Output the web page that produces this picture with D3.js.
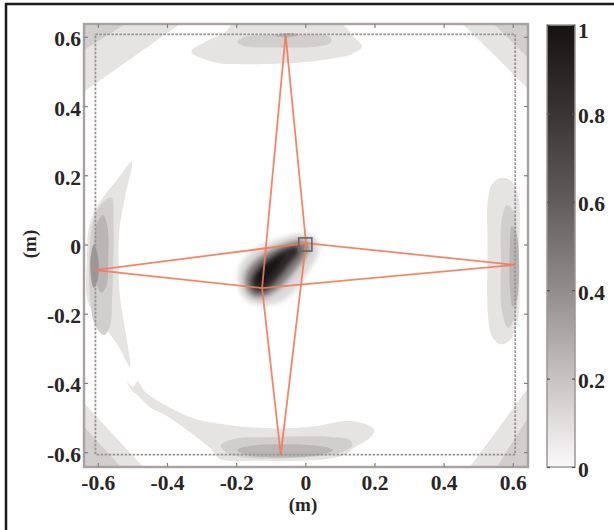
<!DOCTYPE html>
<html>
<head>
<meta charset="utf-8">
<script src="https://cdn.jsdelivr.net/npm/d3@7"></script>
<style>
  body { margin: 0; background: #fff; }
  text { font-family: "Liberation Serif", "Times New Roman", serif; font-weight: bold; fill: #2a2626; }
</style>
</head>
<body>
<div class="chart"></div>
<script>
var width = 614, height = 530;

// tick values
var xTicks = [-0.6, -0.4, -0.2, 0, 0.2, 0.4, 0.6];
var yTicks = [-0.6, -0.4, -0.2, 0, 0.2, 0.4, 0.6];
var cbTicks = [0, 0.2, 0.4, 0.6, 0.8, 1];

// contour outlines, in metres
var cornerTL1 = [[-0.64, 0.637], [-0.362, 0.637], [-0.64, 0.441]];
var cornerTL2 = [[-0.64, 0.637], [-0.521, 0.637], [-0.64, 0.562]];
var cornerTR1 = [[0.644, 0.637], [0.455, 0.637], [0.644, 0.45]];
var cornerTR2 = [[0.644, 0.637], [0.545, 0.637], [0.644, 0.54]];
var cornerBL1 = [[-0.64, -0.643], [-0.64, -0.458], [-0.469, -0.643]];
var cornerBL2 = [[-0.64, -0.643], [-0.64, -0.527], [-0.533, -0.643]];
var cornerBR1 = [[0.644, -0.643], [0.644, -0.415], [0.476, -0.643]];
var cornerBR2 = [[0.644, -0.643], [0.644, -0.5], [0.554, -0.643]];

var topBand1 = [[-0.33, 0.557], [-0.29, 0.585], [-0.232, 0.614], [-0.2, 0.645], [0.09, 0.645], [0.143, 0.597],
  [0.164, 0.571], [0.129, 0.548], [0.071, 0.536], [-0.024, 0.525], [-0.189, 0.521], [-0.255, 0.525]];
var topBand2 = [[-0.197, 0.585], [-0.174, 0.6], [-0.044, 0.606], [0.071, 0.6], [0.074, 0.585], [0.042, 0.573],
  [-0.102, 0.57], [-0.174, 0.573]];
var topBand3 = [[-0.09, 0.603], [-0.05, 0.611], [-0.02, 0.606], [-0.05, 0.598]];

var leftBand1 = [[-0.502, 0.239], [-0.521, 0.138], [-0.538, 0.042], [-0.54, -0.054], [-0.536, -0.151], [-0.521, -0.247],
  [-0.507, -0.353], [-0.54, -0.295], [-0.574, -0.247], [-0.613, -0.199], [-0.632, -0.151], [-0.632, -0.054],
  [-0.627, 0.042], [-0.613, 0.09], [-0.584, 0.138], [-0.545, 0.186]];
var leftBand2 = [[-0.56, 0.134], [-0.555, 0.071], [-0.555, -0.045], [-0.559, -0.16], [-0.564, -0.233], [-0.582, -0.262],
  [-0.608, -0.233], [-0.622, -0.16], [-0.624, -0.016], [-0.608, 0.085], [-0.585, 0.123]];
var leftBand3 = [[-0.585, 0.085], [-0.572, 0.05], [-0.57, -0.05], [-0.575, -0.12], [-0.59, -0.14], [-0.605, -0.11],
  [-0.61, -0.02], [-0.603, 0.06]];
var leftBand4 = [[-0.612, 0.0], [-0.6, -0.03], [-0.6, -0.1], [-0.612, -0.125], [-0.622, -0.06]];

var rightBand1 = [[0.563, 0.192], [0.592, 0.186], [0.615, 0.143], [0.618, -0.04], [0.615, -0.218], [0.592, -0.276],
  [0.563, -0.288], [0.539, -0.262], [0.528, -0.204], [0.527, -0.016], [0.528, 0.129], [0.539, 0.172]];
var rightBand2 = [[0.583, 0.114], [0.603, 0.094], [0.612, -0.045], [0.606, -0.212], [0.586, -0.241], [0.568, -0.189],
  [0.566, -0.045], [0.568, 0.071]];
var rightBand3 = [[0.597, 0.053], [0.612, 0.027], [0.612, -0.16], [0.6, -0.18], [0.592, -0.131], [0.592, 0.013]];

var bottomBand1 = [[-0.515, -0.397], [-0.498, -0.412], [-0.486, -0.395], [-0.463, -0.426], [-0.405, -0.464],
  [-0.333, -0.499], [-0.261, -0.516], [-0.16, -0.528], [-0.044, -0.531], [0.042, -0.523], [0.115, -0.51],
  [0.164, -0.516], [0.199, -0.536], [0.187, -0.559], [0.144, -0.585], [0.112, -0.608], [0.042, -0.622],
  [-0.131, -0.625], [-0.247, -0.62], [-0.27, -0.594], [-0.304, -0.565], [-0.35, -0.53], [-0.405, -0.493],
  [-0.449, -0.47], [-0.483, -0.438], [-0.504, -0.418]];
var bottomBand2 = [[-0.244, -0.579], [-0.204, -0.562], [-0.073, -0.556], [0.071, -0.556], [0.129, -0.565],
  [0.135, -0.582], [0.086, -0.605], [-0.044, -0.617], [-0.189, -0.614], [-0.235, -0.597]];
var bottomBand3 = [[-0.197, -0.594], [-0.16, -0.582], [0.042, -0.582], [0.08, -0.594], [0.042, -0.608], [-0.16, -0.611]];

// central spot
var spot1 = [[-0.015, 0.03], [0.031, 0.019], [0.037, -0.027], [0.008, -0.079], [-0.027, -0.131], [-0.073, -0.166],
  [-0.131, -0.175], [-0.177, -0.155], [-0.195, -0.103], [-0.183, -0.051], [-0.137, -0.01], [-0.067, 0.019]];
var spot2 = [[-0.007, 0.013], [0.014, -0.004], [-0.001, -0.039], [-0.038, -0.088], [-0.079, -0.131], [-0.125, -0.155],
  [-0.16, -0.146], [-0.177, -0.108], [-0.166, -0.068], [-0.125, -0.03], [-0.064, 0.001]];
var spot3 = [[-0.021, -0.004], [-0.015, -0.022], [-0.044, -0.059], [-0.079, -0.103], [-0.116, -0.137], [-0.145, -0.137],
  [-0.16, -0.111], [-0.145, -0.074], [-0.108, -0.039], [-0.059, -0.01]];
var spot4 = [[-0.059, -0.03], [-0.088, -0.079], [-0.122, -0.117], [-0.142, -0.111], [-0.137, -0.079], [-0.102, -0.048]];

// sensor positions
var outerPoints = [[-0.057, 0.605], [-0.608, -0.074], [0.606, -0.059], [-0.071, -0.608]];
var innerPoints = [[0.002, 0.004], [-0.125, -0.126]];
var sourceBox = [0, 0];
var boundary = 0.607;

var color = d3.scaleLinear()
    .domain([0, 0.2, 0.4, 0.6, 0.8, 1])
    .range(["#faf9f9", "#c7c3c3", "#928d8d", "#625d5d", "#3a3535", "#161212"]);

var layers = [
  {pts: cornerTL1, v: 0.08, straight: true}, {pts: cornerTL2, v: 0.16, straight: true},
  {pts: cornerTR1, v: 0.08, straight: true}, {pts: cornerTR2, v: 0.16, straight: true},
  {pts: cornerBL1, v: 0.08, straight: true}, {pts: cornerBL2, v: 0.16, straight: true},
  {pts: cornerBR1, v: 0.08, straight: true}, {pts: cornerBR2, v: 0.16, straight: true},
  {pts: topBand1, v: 0.08}, {pts: topBand2, v: 0.16}, {pts: topBand3, v: 0.25},
  {pts: leftBand1, v: 0.08}, {pts: leftBand2, v: 0.16}, {pts: leftBand3, v: 0.25}, {pts: leftBand4, v: 0.36},
  {pts: rightBand1, v: 0.08}, {pts: rightBand2, v: 0.16}, {pts: rightBand3, v: 0.25},
  {pts: bottomBand1, v: 0.08}, {pts: bottomBand2, v: 0.16}, {pts: bottomBand3, v: 0.25}
];
var spotLayers = [
  {pts: spot1, v: 0.12}, {pts: spot2, v: 0.45}, {pts: spot3, v: 0.85}, {pts: spot4, v: 1}
];

var x = d3.scaleLinear().domain([-0.64, 0.644]).range([84, 528]);
var y = d3.scaleLinear().domain([-0.643, 0.637]).range([467, 24]);
var cb = d3.scaleLinear().domain([0, 1]).range([467, 25]);

var svg = d3.select(".chart").append("svg")
    .attr("width", width)
    .attr("height", height);

var defs = svg.append("defs");
defs.append("clipPath").attr("id", "plotclip")
  .append("rect").attr("x", 84).attr("y", 24).attr("width", 444).attr("height", 443);
defs.append("filter").attr("id", "soft").attr("x", "-50%").attr("y", "-50%").attr("width", "200%").attr("height", "200%")
  .append("feGaussianBlur").attr("stdDeviation", 2.6);
defs.append("filter").attr("id", "soft2")
  .append("feGaussianBlur").attr("stdDeviation", 0.7);

var grad = defs.append("linearGradient").attr("id", "cbgrad")
    .attr("x1", 0).attr("y1", 1).attr("x2", 0).attr("y2", 0);
d3.range(0, 1.001, 0.1).forEach(function(t) {
  grad.append("stop").attr("offset", t).attr("stop-color", color(t));
});

var smooth = d3.line().x(function(d) { return x(d[0]); }).y(function(d) { return y(d[1]); })
    .curve(d3.curveCatmullRomClosed.alpha(0.5));
var straight = d3.line().x(function(d) { return x(d[0]); }).y(function(d) { return y(d[1]); })
    .curve(d3.curveLinearClosed);

var plot = svg.append("g").attr("clip-path", "url(#plotclip)");

plot.append("g").attr("filter", "url(#soft2)")
  .selectAll("path")
  .data(layers)
  .enter().append("path")
    .attr("d", function(d) { return d.straight ? straight(d.pts) : smooth(d.pts); })
    .attr("fill", function(d) { return color(d.v); });

plot.append("g").attr("filter", "url(#soft)")
  .selectAll("path")
  .data(spotLayers)
  .enter().append("path")
    .attr("d", function(d) { return smooth(d.pts); })
    .attr("fill", function(d) { return color(d.v); });

// dashed boundary
plot.append("rect")
    .attr("x", x(-boundary)).attr("y", y(boundary))
    .attr("width", x(boundary) - x(-boundary)).attr("height", y(-boundary) - y(boundary))
    .attr("fill", "none").attr("stroke", "#9a9494").attr("stroke-width", 1.8)
    .attr("stroke-dasharray", "2.5,1.5");

// paths between sensors
var segs = [];
outerPoints.forEach(function(o) {
  innerPoints.forEach(function(p) { segs.push([o, p]); });
});
plot.append("g").selectAll("line")
  .data(segs)
  .enter().append("line")
    .attr("x1", function(d) { return x(d[0][0]); }).attr("y1", function(d) { return y(d[0][1]); })
    .attr("x2", function(d) { return x(d[1][0]); }).attr("y2", function(d) { return y(d[1][1]); })
    .attr("stroke", "#f27a5a").attr("stroke-width", 1.8).attr("stroke-opacity", 0.9);

var hs = 0.019;
plot.append("rect")
    .attr("x", x(sourceBox[0] - hs)).attr("y", y(sourceBox[1] + hs))
    .attr("width", x(hs) - x(-hs)).attr("height", y(-hs) - y(hs))
    .attr("fill", "none").attr("stroke", "#6b6565").attr("stroke-width", 1.6);

// axes box
svg.append("rect").attr("x", 84).attr("y", 24).attr("width", 444).attr("height", 443)
    .attr("fill", "none").attr("stroke", "#a8a2a2").attr("stroke-width", 2.4);

function tickOnly(g) {
  g.select(".domain").remove();
  g.selectAll("text").remove();
  g.selectAll("line").attr("stroke", "#878181").attr("stroke-width", 1.2);
}
svg.append("g").attr("transform", "translate(0,467)").call(d3.axisBottom(x).tickValues(xTicks).tickSize(-4)).call(tickOnly);
svg.append("g").attr("transform", "translate(0,24)").call(d3.axisTop(x).tickValues(xTicks).tickSize(-4)).call(tickOnly);
svg.append("g").attr("transform", "translate(84,0)").call(d3.axisLeft(y).tickValues(yTicks).tickSize(-4)).call(tickOnly);
svg.append("g").attr("transform", "translate(528,0)").call(d3.axisRight(y).tickValues(yTicks).tickSize(-4)).call(tickOnly);

function labelsOnly(g) {
  g.select(".domain").remove();
  g.selectAll("line").remove();
  g.selectAll("text").attr("font-size", 21.5).attr("fill", "#2a2626");
}
var fmt = function(d) { return String(d); };
svg.append("g").attr("transform", "translate(0,467)")
  .call(d3.axisBottom(x).tickValues(xTicks).tickSize(0).tickPadding(7.5).tickFormat(fmt))
  .call(labelsOnly);
svg.append("g").attr("transform", "translate(84,0)")
  .call(d3.axisLeft(y).tickValues(yTicks).tickSize(0).tickPadding(3).tickFormat(fmt))
  .call(labelsOnly)
  .selectAll("text").attr("dy", "0.42em");

svg.append("text").attr("x", 303).attr("y", 511).attr("text-anchor", "middle")
    .attr("font-size", 19).text("(m)");
svg.append("text").attr("transform", "translate(36,244) rotate(-90)").attr("text-anchor", "middle")
    .attr("font-size", 19).text("(m)");

// colour bar
svg.append("rect").attr("x", 547).attr("y", 25).attr("width", 28).attr("height", 442)
    .attr("fill", "url(#cbgrad)").attr("stroke", "#9c9696").attr("stroke-width", 1.5);
svg.append("g").attr("transform", "translate(547,0)")
  .call(d3.axisRight(cb).tickValues(cbTicks).tickSize(3)).call(tickOnly)
  .selectAll("line").attr("stroke", "#555");
svg.append("g").attr("transform", "translate(575,0)")
  .call(d3.axisLeft(cb).tickValues(cbTicks).tickSize(3)).call(tickOnly)
  .selectAll("line").attr("stroke", "#555");
var cbAxis = svg.append("g").attr("transform", "translate(575,0)")
  .call(d3.axisRight(cb).tickValues(cbTicks).tickSize(0).tickPadding(3).tickFormat(fmt))
  .call(labelsOnly);
cbAxis.selectAll("text").attr("dy", function(d) { return d === 1 ? "0.6em" : "0.42em"; });

// figure frame
svg.append("line").attr("x1", 5).attr("y1", 4).attr("x2", width).attr("y2", 4)
    .attr("stroke", "#1b1b1b").attr("stroke-width", 2.5);
svg.append("line").attr("x1", 6).attr("y1", 3).attr("x2", 6).attr("y2", height)
    .attr("stroke", "#1b1b1b").attr("stroke-width", 2.5);
</script>
</body>
</html>
